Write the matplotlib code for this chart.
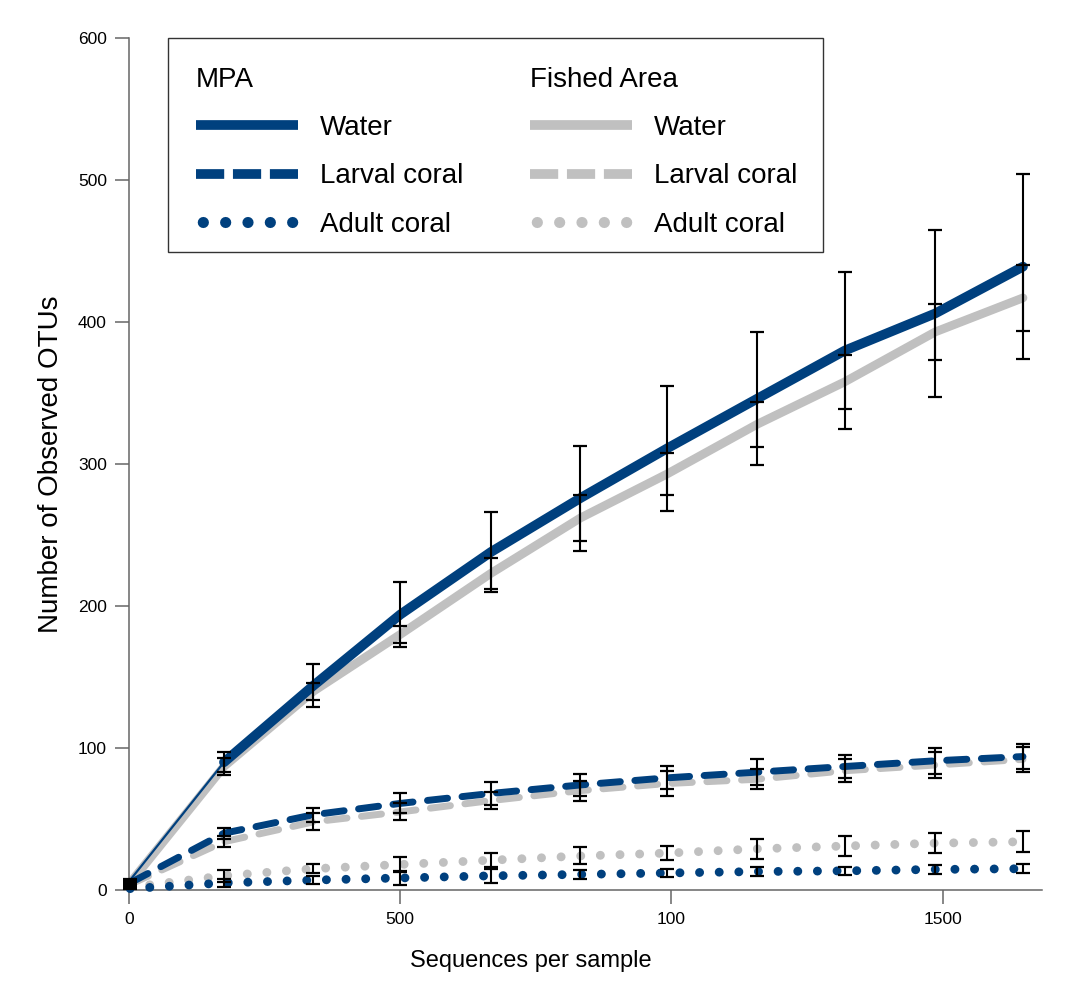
import numpy as np
import matplotlib
matplotlib.use("Agg")
import matplotlib.pyplot as plt
from matplotlib.lines import Line2D
from matplotlib.patches import Rectangle

plt.rcParams['font.family'] = ['Liberation Sans', 'DejaVu Sans']

#%% data

seqs = [2, 175, 340, 500, 667, 832, 992, 1158, 1320, 1486, 1648]

mpa_water = [7, 90, 144, 194, 238, 276, 311, 346, 380, 406, 439]
mpa_water_err = [0.5, 7, 15, 23, 28, 37, 44, 47, 55, 59, 65]
fished_water = [5, 87, 140, 180, 223, 262, 293, 328, 358, 393, 417]
fished_water_err = [0.5, 6, 6, 6, 11, 16, 15, 16, 19, 20, 23]

mpa_larval = [5, 40, 53, 61, 68, 74, 79, 83, 87, 91, 94]
mpa_larval_err = [0.5, 4, 5, 7, 8, 8, 8, 9, 8, 9, 9]
fished_larval = [4, 34, 48, 55, 63, 70, 75, 78, 84, 88, 92]
fished_larval_err = [0.5, 4, 6, 6, 6, 7, 9, 7, 8, 9, 9]

mpa_adult = [1, 5, 7, 8.5, 10, 11, 12, 13, 13.5, 14.5, 15]
mpa_adult_err = [0.5, 3, 3, 5, 5, 3, 3, 3, 3, 3, 3]
fished_adult = [2, 10, 15, 18, 21, 24, 26, 29, 31, 33, 34]
fished_adult_err = [0.5, 4, 3, 5, 5, 6, 5, 7, 7, 7, 7.5]

xticks = [0, 500, 1000, 1500]
xticklabels = ["0", "500", "100", "1500"]
yticks = [0, 100, 200, 300, 400, 500, 600]

blue = '#00407e'
grey = '#c0c0c0'

#%% plot

fig = plt.figure(figsize=(10.89, 9.93), dpi=100)
ax = fig.add_axes([0.1185, 0.1037, 0.8383, 0.858])

dash = (0, (2.9, 2.1))
dots = (0, (0.01, 2.2))

# fished area (grey) underneath
ax.plot(seqs, fished_water, color=grey, lw=6.3, solid_capstyle='round', zorder=2)
ax.plot(seqs, fished_larval, color=grey, lw=5, linestyle=dash, dash_capstyle='round', zorder=2)
ax.plot(seqs, fished_adult, color=grey, lw=6.4, linestyle=dots, dash_capstyle='round',
        zorder=2, clip_on=False)

# MPA (blue) on top - first water segment is thin in the original
ax.plot(seqs[:2], mpa_water[:2], color=blue, lw=1.6, zorder=3)
ax.plot(seqs[1:], mpa_water[1:], color=blue, lw=7, solid_capstyle='round', zorder=3)
ax.plot(seqs, mpa_larval, color=blue, lw=5, linestyle=dash, dash_capstyle='round', zorder=3)
ax.plot(seqs, mpa_adult, color=blue, lw=6.4, linestyle=dots, dash_capstyle='round',
        zorder=3, clip_on=False)

# error bars
for yv, ye in [(mpa_water, mpa_water_err), (fished_water, fished_water_err),
               (mpa_larval, mpa_larval_err), (fished_larval, fished_larval_err),
               (mpa_adult, mpa_adult_err), (fished_adult, fished_adult_err)]:
    ax.errorbar(seqs, yv, yerr=ye, fmt='none', ecolor='black', elinewidth=1.5,
                capsize=4.7, capthick=1.6, zorder=5, clip_on=False)

ax.set_xlim(0, 1683)
ax.set_ylim(0, 600)
ax.set_xticks(xticks)
ax.set_xticklabels(xticklabels)
ax.set_yticks(yticks)

for s in ['top', 'right']:
    ax.spines[s].set_visible(False)
for s in ['left', 'bottom']:
    ax.spines[s].set_color('#666666')
    ax.spines[s].set_linewidth(1.1)
ax.tick_params(direction='out', length=10, width=1.1, color='#666666',
               labelsize=12.5, pad=6)

ax.set_xlabel("Sequences per sample", fontsize=17)
ax.xaxis.set_label_coords(0.44, -0.070)
ax.set_ylabel("Number of Observed OTUs", fontsize=20, labelpad=10)

#%% legend: two titled columns inside one box

def handles(c):
    return [Line2D([], [], color=c, lw=7, solid_capstyle='butt'),
            Line2D([], [], color=c, lw=7, linestyle=(0, (2.9, 0.9)), dash_capstyle='butt'),
            Line2D([], [], color=c, lw=8, linestyle=(1.4, (0.01, 2.0)), dash_capstyle='round')]

labels = ["Water", "Larval coral", "Adult coral"]
leg_kw = dict(fontsize=20, title_fontsize=20, handlelength=3.67, handletextpad=0.8,
              labelspacing=0.8, frameon=False, loc='upper left', borderpad=0,
              borderaxespad=0, alignment='left')

leg1 = ax.legend(handles(blue), labels, title="MPA", bbox_to_anchor=(0.0734, 0.966), **leg_kw)
ax.add_artist(leg1)
leg2 = ax.legend(handles(grey), labels, title="Fished Area", bbox_to_anchor=(0.439, 0.966), **leg_kw)

ax.add_patch(Rectangle((0.0427, 0.749), 0.717, 0.251, transform=ax.transAxes, fill=False,
                       ec='#333333', lw=1, clip_on=False, zorder=6))

plt.savefig("out.png", dpi=100)
